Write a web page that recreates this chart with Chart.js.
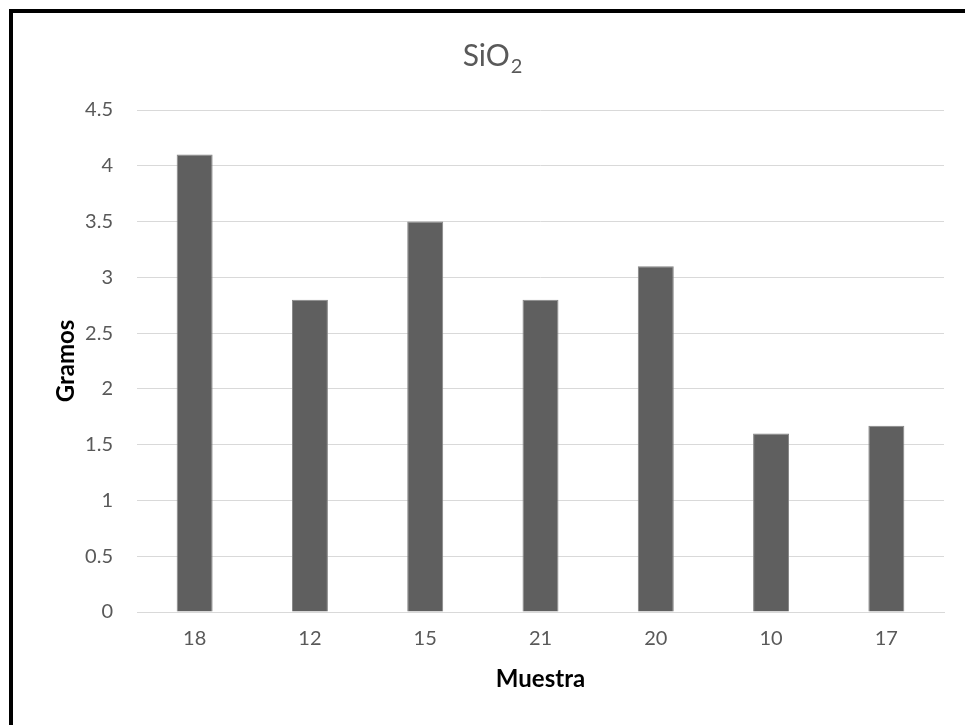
<!DOCTYPE html>
<html>
<head>
<meta charset="utf-8">
<script src="https://cdn.jsdelivr.net/npm/chart.js@4.4.1/dist/chart.umd.min.js"></script>
<style>
  html, body { margin: 0; padding: 0; background: #ffffff; overflow: hidden; }
  #wrap { position: relative; width: 965px; height: 725px; }
  #frame {
    position: absolute; left: 9px; top: 9px; width: 1200px; height: 1200px;
    border-left: 4px solid #000; border-top: 4px solid #000; box-sizing: border-box;
    pointer-events: none;
  }
  canvas { position: absolute; left: 0; top: 0; }
</style>
</head>
<body>
<div id="wrap">
  <canvas id="chart" width="965" height="725"></canvas>
  <div id="frame"></div>
</div>
<script>
// Sample identifiers along the x axis
const muestras = ['18', '12', '15', '21', '20', '10', '17'];
// Silica mass per sample, in grams
const gramos = [4.1, 2.8, 3.5, 2.8, 3.1, 1.6, 1.67];
// Value axis range and its labels
const yMin = 0;
const yMax = 4.5;
const yStep = 0.5;
const yTickLabels = ['0', '0.5', '1', '1.5', '2', '2.5', '3', '3.5', '4', '4.5'];

const FONT = 'Lato, "Open Sans", sans-serif';
const TEXT_GREY = '#595959';

// Title with a real subscript for the formula
const formulaTitle = {
  id: 'formulaTitle',
  afterDraw(chart) {
    const ctx = chart.ctx;
    const cx = 492;
    const base = 66;
    ctx.save();
    ctx.fillStyle = TEXT_GREY;
    ctx.textBaseline = 'alphabetic';
    ctx.font = '30px ' + FONT;
    const main = 'SiO';
    const wMain = ctx.measureText(main).width;
    ctx.font = '20px ' + FONT;
    const wSub = ctx.measureText('2').width;
    const left = cx - (wMain + wSub) / 2;
    ctx.font = '30px ' + FONT;
    ctx.textAlign = 'left';
    ctx.fillText(main, left, base);
    ctx.font = '20px ' + FONT;
    ctx.fillText('2', left + wMain + 1, base + 7);
    ctx.restore();
  }
};

new Chart(document.getElementById('chart'), {
  type: 'bar',
  data: {
    labels: muestras,
    datasets: [{
      data: gramos,
      backgroundColor: '#5f5f5f',
      borderColor: '#858585',
      borderWidth: 1,
      barPercentage: 0.312,
      categoryPercentage: 1.0
    }]
  },
  options: {
    responsive: false,
    animation: false,
    devicePixelRatio: 1,
    layout: { padding: { left: 52, right: 21, top: 110, bottom: 25 } },
    plugins: {
      legend: { display: false },
      title: { display: false },
      tooltip: { enabled: false }
    },
    scales: {
      x: {
        grid: { display: false, drawTicks: false },
        border: { color: '#d9d9d9', width: 1 },
        ticks: { color: TEXT_GREY, font: { family: FONT, size: 20 }, padding: 15 },
        title: {
          display: true, text: 'Muestra', color: '#000',
          font: { family: FONT, size: 24, weight: 'bold' },
          padding: { top: 0, bottom: 6 }
        },
        afterFit(scale) { scale.height = 88; }
      },
      y: {
        min: yMin, max: yMax,
        grid: { color: '#d9d9d9', lineWidth: 1, drawTicks: false },
        border: { display: false },
        ticks: {
          stepSize: yStep, color: TEXT_GREY, padding: 24,
          font: { family: FONT, size: 20 },
          callback: (value, index) => yTickLabels[index]
        },
        title: {
          display: true, text: 'Gramos', color: '#000',
          font: { family: FONT, size: 24, weight: 'bold' },
          padding: { top: 0, bottom: 0 }
        },
        afterFit(scale) { scale.width = 85; }
      }
    }
  },
  plugins: [formulaTitle]
});
</script>
</body>
</html>
